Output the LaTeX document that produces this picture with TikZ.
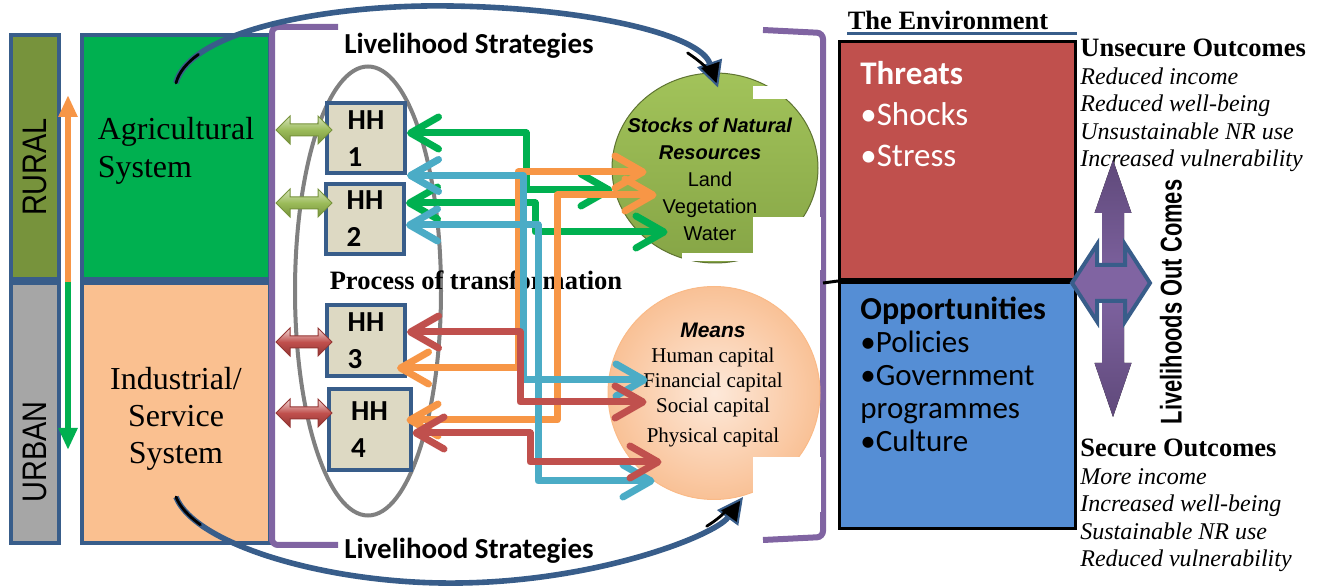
\documentclass[tikz,border=0pt]{standalone}
\usepackage{graphicx}
\usepackage{fontspec}
\setmainfont{Liberation Serif}
\newfontfamily\calibri{Carlito}
\newfontfamily\arial{Liberation Sans}
\usetikzlibrary{arrows.meta,positioning,shapes.geometric,calc}

\definecolor{hhblue}{HTML}{385D8A}
\definecolor{agrigreen}{HTML}{00B050}
\definecolor{ruralolive}{HTML}{77933C}
\definecolor{urbangray}{HTML}{A6A6A6}
\definecolor{induspeach}{HTML}{FAC090}
\definecolor{hhfill}{HTML}{DDD9C3}
\definecolor{procgray}{HTML}{808080}
\definecolor{bracketpurple}{HTML}{8064A2}
\definecolor{arrgreen}{HTML}{00B050}
\definecolor{arrblue}{HTML}{4BACC6}
\definecolor{arrorange}{HTML}{F79646}
\definecolor{arrred}{HTML}{C0504D}
\definecolor{stocktop}{HTML}{A2C35A}
\definecolor{stockbot}{HTML}{86A546}
\definecolor{meanslight}{HTML}{FDE9DA}
\definecolor{meansdark}{HTML}{F9C196}
\definecolor{threatred}{HTML}{C0504D}
\definecolor{oppblue}{HTML}{558ED5}
\definecolor{purpletop}{HTML}{5F497A}
\definecolor{purplemid}{HTML}{8064A2}
\definecolor{linkgreentop}{HTML}{D7E4BD}
\definecolor{linkgreenmid}{HTML}{9BBB59}
\definecolor{linkgreenbot}{HTML}{77933C}
\definecolor{linkredtop}{HTML}{F2DCDB}
\definecolor{linkredmid}{HTML}{C0504D}
\definecolor{linkredbot}{HTML}{943634}

% double block arrow from a system box to a household
\newcommand{\linkarrow}[2]{%
  \draw[#2] (#1) -- ++(14,-14) -- ++(0,8) -- ++(28,0) -- ++(0,-8) -- ++(14,14)
    -- ++(-14,14) -- ++(0,-8) -- ++(-28,0) -- ++(0,8) -- cycle;}

\begin{document}
\begin{tikzpicture}[x=0.5pt, y=-0.5pt,
    sysbox/.style={draw=hhblue, line width=2pt, inner sep=0pt},
    hhbox/.style={sysbox, fill=hhfill, minimum width=39pt, minimum height=35pt, align=left,
      font=\calibri\bfseries\fontsize{14.5}{18.5}\selectfont},
    envbox/.style={draw=black, line width=1.5pt, inner sep=0pt, minimum width=118pt},
    strbracket/.style={draw=bracketpurple, line width=3pt, rounded corners=3pt},
    flow/.style={line width=3.5pt, line cap=round, line join=round,
      >={Straight Barb[length=14pt,width=16pt,round]}, <->},
    linkgreen/.style={top color=linkgreentop, bottom color=linkgreenbot, middle color=linkgreenmid,
      draw=linkgreenbot, line width=0.5pt},
    linkred/.style={top color=linkredtop, bottom color=linkredbot, middle color=linkredmid,
      draw=linkredbot, line width=0.5pt},
    curvearrow/.style={draw=hhblue, line width=2.8pt,
      -{Triangle[length=13pt,width=13pt,fill=black,line width=1pt]}},
    curvecore/.style={draw=black, line width=1.4pt, line cap=round}]
  \useasboundingbox (0,0) rectangle (1319,587);

  % rural / urban
  \node[sysbox, fill=ruralolive, minimum width=24pt, minimum height=122pt] (rural) at (35,157) {};
  \node[sysbox, fill=urbangray, minimum width=24pt, minimum height=130pt] (urban) at (35,413) {};
  \node[rotate=90, font=\arial\fontsize{17}{17}\selectfont] (ruraltxt) at (35,167) {\scalebox{0.85}[1]{RURAL}};
  \node[rotate=90, font=\arial\fontsize{17}{17}\selectfont] (urbantxt) at (35,452) {\scalebox{0.85}[1]{URBAN}};
  \coordinate (rumid) at (68,282);
  \coordinate (ruraltip) at (68,95);
  \coordinate (urbantip) at (68,450);
  \draw[arrorange, line width=3pt, -{Triangle[length=11pt,width=9pt]}] (rumid) -- (ruraltip);
  \draw[arrgreen, line width=3pt, -{Triangle[length=11pt,width=9pt]}] (rumid) -- (urbantip);

  % systems
  \node[sysbox, fill=agrigreen, minimum width=94pt, minimum height=122pt] (agri) at (176,157) {};
  \node[sysbox, fill=induspeach, minimum width=94pt, minimum height=130pt] (indus) at (176,413) {};
  \node[align=left, font=\fontsize{16}{19}\selectfont] (agritxt) at (176,151) {Agricultural\\System};
  \node[align=center, font=\fontsize{16}{18.5}\selectfont] (industxt) at (176,419) {Industrial/\\Service\\System};

  % livelihood strategies
  \draw[strbracket] (338,27) -- (272,27) -- (272,545) -- (338,545);
  \draw[strbracket] (763,30) -- (823,33) -- (823,537) -- (763,540);
  \node[font=\calibri\bfseries\fontsize{14.5}{14.5}\selectfont] (strattop) at (469,46) {Livelihood Strategies};
  \node[font=\calibri\bfseries\fontsize{14.5}{14.5}\selectfont] (stratbot) at (469,551) {Livelihood Strategies};

  % households
  \node[ellipse, draw=procgray, line width=2pt, minimum width=73pt, minimum height=224.5pt] (proc) at (368,291) {};
  \node[font=\bfseries\fontsize{13.25}{13.25}\selectfont] (proctxt) at (476,280) {Process of transformation};
  \node[hhbox] (hh1) at (366,138.5) {HH\\1};
  \node[hhbox] (hh2) at (365,219) {HH\\2};
  \node[hhbox, minimum height=35.5pt] (hh3) at (366,340.5) {HH\\3};
  \node[hhbox, minimum width=41pt, minimum height=40.5pt] (hh4) at (369.5,429.5) {HH\\4};
  \linkarrow{$(agri.east |- hh1.west)+(4,-8.5)$}{linkgreen}
  \linkarrow{$(agri.east |- hh2.west)+(4,-16)$}{linkgreen}
  \linkarrow{$(indus.east |- hh3.west)+(4,1.5)$}{linkred}
  \linkarrow{$(indus.east |- hh4.west)+(4,-16.5)$}{linkred}

  % resources
  \node[ellipse, minimum width=103pt, minimum height=95pt, top color=stocktop, bottom color=stockbot,
    draw=stockbot!70!black, line width=0.5pt] (stocks) at (715,168) {};
  \node[ellipse, minimum width=106pt, minimum height=106.5pt, inner color=meanslight, outer color=meansdark,
    draw=meansdark!90!orange, line width=0.5pt] (means) at (714,393) {};
  \fill[white] (753,86) rectangle (795,99);
  \fill[white] (753,217) rectangle (821,270);
  \fill[white] (682,253) rectangle (753,261);
  \fill[white] (753,457) rectangle (821,512);
  \node[align=center, font=\arial\fontsize{10}{13.5}\selectfont] (stockstxt) at (710,179)
    {\textbf{\textit{Stocks of Natural}}\\\textbf{\textit{Resources}}\\Land\\Vegetation\\Water};
  \node[align=center, font=\fontsize{10.5}{12.5}\selectfont] (meanstxt) at (713,385)
    {{\arial\bfseries\itshape Means}\\Human capital\\Financial capital\\Social capital\\[2.5pt]Physical capital};

  % flows
  \draw[flow, arrgreen] ([yshift=2.75pt]hh1.east) -| (526,190) -- ([xshift=0.5pt,yshift=-11pt]stocks.west);
  \draw[flow, arrgreen] ([yshift=8pt]hh2.east) -| (535,232) -- ([xshift=28pt,yshift=-32pt]stocks.west);
  \draw[flow, arrorange] ([xshift=-5pt,yshift=-13.75pt]hh3.east) -| (518,172) -- ([xshift=17.5pt,yshift=-2pt]stocks.west);
  \draw[flow, arrorange] ([xshift=-3pt,yshift=4.75pt]hh4.east) -| (557,195) -- ([xshift=22.5pt,yshift=-13.5pt]stocks.west);
  \draw[flow, arrblue] (hh1.south east) -| (523,380) -- ([xshift=20pt,yshift=6.5pt]means.west);
  \draw[flow, arrblue] ([yshift=-3pt]hh2.east) -| (538,481) -- ([xshift=23.5pt,yshift=-44pt]means.west);
  \draw[flow, arrred] ([yshift=4.25pt]hh3.east) -| (520,402) -- ([xshift=19.5pt,yshift=-4.5pt]means.west);
  \draw[flow, arrred] ([yshift=-1.75pt]hh4.east) -| (530,462) -- ([xshift=27pt,yshift=-34.5pt]means.west);

  % the environment
  \node[font=\bfseries\fontsize{13.25}{13.25}\selectfont] (envtxt) at (948,20) {The Environment};
  \node[envbox, fill=threatred, minimum height=119pt] (threats) at (957.5,160.5) {};
  \node[envbox, fill=oppblue, minimum height=123pt] (opps) at (957.5,405.5) {};
  \draw[hhblue, line width=1.5pt] ([xshift=4.5pt,yshift=3pt]threats.north west) -- ([yshift=3pt]threats.north east);
  \draw[black, line width=1.5pt] (823,283) -- (threats.south west);
  \node[anchor=north west, align=left, inner sep=0pt, text=white, font=\calibri\fontsize{16.5}{20.5}\selectfont]
    (threatstxt) at (860,61) {\textbf{Threats}\\•Shocks\\•Stress};
  \node[anchor=north west, align=left, inner sep=0pt, font=\calibri\fontsize{15.5}{16.5}\selectfont]
    (oppstxt) at (860,297) {\textbf{\fontsize{16}{16.5}\selectfont Opportunities}\\•Policies\\•Government\\programmes\\•Culture};

  % outcomes
  \node[anchor=north west, align=left, inner sep=0pt, font=\itshape\fontsize{12}{13.7}\selectfont]
    (unsec) at (1080,39) {\textup{\bfseries\fontsize{13.25}{13.7}\selectfont Unsecure Outcomes}\\Reduced income\\Reduced well-being\\Unsustainable NR use\\Increased vulnerability};
  \node[anchor=north west, align=left, inner sep=0pt, font=\itshape\fontsize{12}{13.7}\selectfont]
    (sec) at (1080,439) {\textup{\bfseries\fontsize{13.25}{13.7}\selectfont Secure Outcomes}\\More income\\Increased well-being\\Sustainable NR use\\Reduced vulnerability};
  \fill[top color=purpletop, bottom color=purpletop, middle color=purplemid]
    (1113,160) -- (1131.5,213) -- (1124,213) -- (1124,363) -- (1131.5,363) -- (1113,417)
    -- (1094.5,363) -- (1102,363) -- (1102,213) -- (1094.5,213) -- cycle;
  \draw[draw=hhblue, line width=2pt, fill=purplemid]
    (1072,283) -- (1097,244.5) -- (1097,265) -- (1125,265) -- (1125,244.5) -- (1150,283)
    -- (1125,321.5) -- (1125,301) -- (1097,301) -- (1097,321.5) -- cycle;
  \node[rotate=90, font=\arial\bfseries\fontsize{15}{15}\selectfont] (outtxt) at (1171,302)
    {\scalebox{0.73}[1]{Livelihoods Out Comes}};

  % strategy arcs
  \draw[curvearrow] ([yshift=-25pt]agri.north) .. controls (190,30) and (330,4) .. (450,6)
    .. controls (590,8) and (700,35) .. ([xshift=1.5pt,yshift=-7.5pt]stocks.north);
  \draw[curvecore] ([yshift=-25pt]agri.north) .. controls (178.8,72.4) and (186.6,62.9) .. (198.4,54.4);
  \draw[curvecore] (687.6,52.9) .. controls (702.4,62.9) and (708,69) .. (711,73);
  \draw[curvearrow] ([yshift=24pt]indus.south) .. controls (195,545) and (330,585) .. (460,583)
    .. controls (600,581) and (715,535) .. ([xshift=14.5pt,yshift=1.5pt]means.south);
  \draw[curvecore] ([yshift=24pt]indus.south) .. controls (179.8,506.6) and (188.2,515.9) .. (200.4,524.7);
  \draw[curvecore] (706.7,526.2) .. controls (715,521) and (720,517) .. (724,513);
\end{tikzpicture}
\end{document}
